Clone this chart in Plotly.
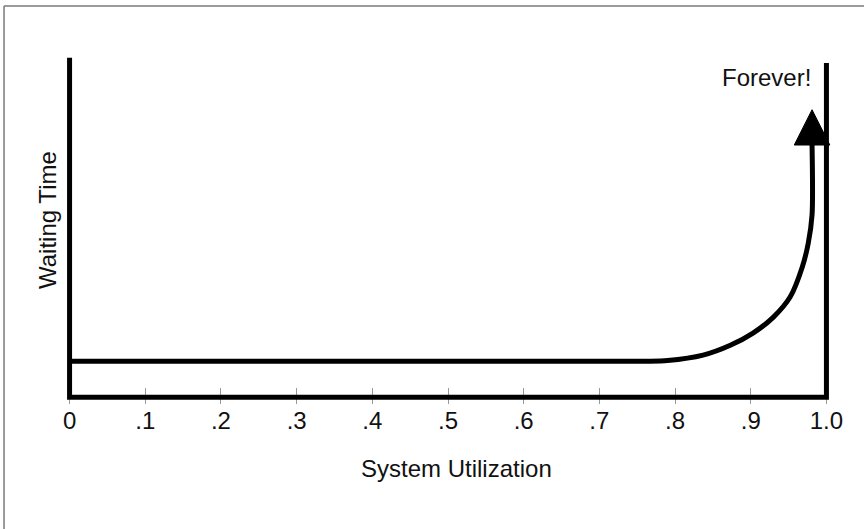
import plotly.graph_objects as go

# Data
utilization = [0.0, 0.40, 0.76, 0.79, 0.837, 0.873, 0.903, 0.930, 0.952, 0.968, 0.976, 0.981, 0.981]
waiting_time = [0.106, 0.106, 0.106, 0.108, 0.124, 0.153, 0.189, 0.236, 0.295, 0.383, 0.454, 0.537, 0.743]

tick_vals = [0, 0.1, 0.2, 0.3, 0.4, 0.5, 0.6, 0.7, 0.8, 0.9, 1.0]
tick_text = ["0", ".1", ".2", ".3", ".4", ".5", ".6", ".7", ".8", ".9", "1.0"]

x_title = "System Utilization"
y_title = "Waiting Time"
note = "Forever!"

FONT = "Liberation Sans, Arial, Helvetica, sans-serif"
FS = 24

# arrow head geometry (style), attached to the curve's end point
head_half_w = 0.0235
head_h = 0.104
tip_x = utilization[-1]
base_y = waiting_time[-1]

fig = go.Figure()
fig.add_trace(go.Scatter(
    x=utilization, y=waiting_time, mode="lines",
    line=dict(color="black", width=5, shape="spline", smoothing=0.8),
    hoverinfo="skip", showlegend=False))
fig.add_trace(go.Scatter(
    x=[tip_x - head_half_w, tip_x + head_half_w, tip_x, tip_x - head_half_w],
    y=[base_y, base_y, base_y + head_h, base_y],
    mode="lines", fill="toself", fillcolor="black",
    line=dict(color="black", width=1), hoverinfo="skip", showlegend=False))

shapes = [
    # axes frame: left, bottom, right
    dict(type="path", path="M 0,1 L 0,0 L 1,0 L 1,0.985", xref="x", yref="y",
         line=dict(color="black", width=5)),
    # outer gray frame (top and left edges)
    dict(type="line", xref="paper", yref="paper", x0=-0.0751, x1=1.05, y0=1.1275, y1=1.1275,
         line=dict(color="#7a7a7a", width=1.5)),
    dict(type="line", xref="paper", yref="paper", x0=-0.0751, x1=-0.0751, y0=1.1275, y1=-0.4,
         line=dict(color="#7a7a7a", width=1.5)),
]

fig.update_layout(
    width=864, height=529,
    margin=dict(l=62, r=30, t=51, b=125),
    paper_bgcolor="white", plot_bgcolor="white",
    font=dict(family=FONT, size=FS, color="#111111"),
    shapes=shapes,
    xaxis=dict(range=[-0.01, 1.01], tickvals=tick_vals, ticktext=tick_text,
               ticks="inside", ticklen=16, tickwidth=1, tickcolor="#999999",
               showgrid=False, zeroline=False, showline=False,
               tickfont=dict(size=FS), fixedrange=True),
    yaxis=dict(range=[-0.02, 1.02], showticklabels=False, ticks="",
               showgrid=False, zeroline=False, showline=False, fixedrange=True),
    annotations=[
        dict(text=x_title, xref="paper", yref="paper", x=(456 - 62) / 772, y=(404 - 468) / 353,
             showarrow=False, xanchor="center", yanchor="middle", font=dict(size=FS)),
        dict(text=y_title, xref="paper", yref="paper", x=(47 - 62) / 772, y=(404 - 220) / 353,
             showarrow=False, textangle=-90, xanchor="center", yanchor="middle", font=dict(size=FS)),
        dict(text=note, xref="x", yref="y", x=(813 - 70) / 756, y=(397 - 78) / 339,
             showarrow=False, xanchor="right", yanchor="middle", font=dict(size=FS)),
    ],
)

fig.write_html("out.html", config={"displayModeBar": False},
               post_script="document.body.style.margin='0px';")
